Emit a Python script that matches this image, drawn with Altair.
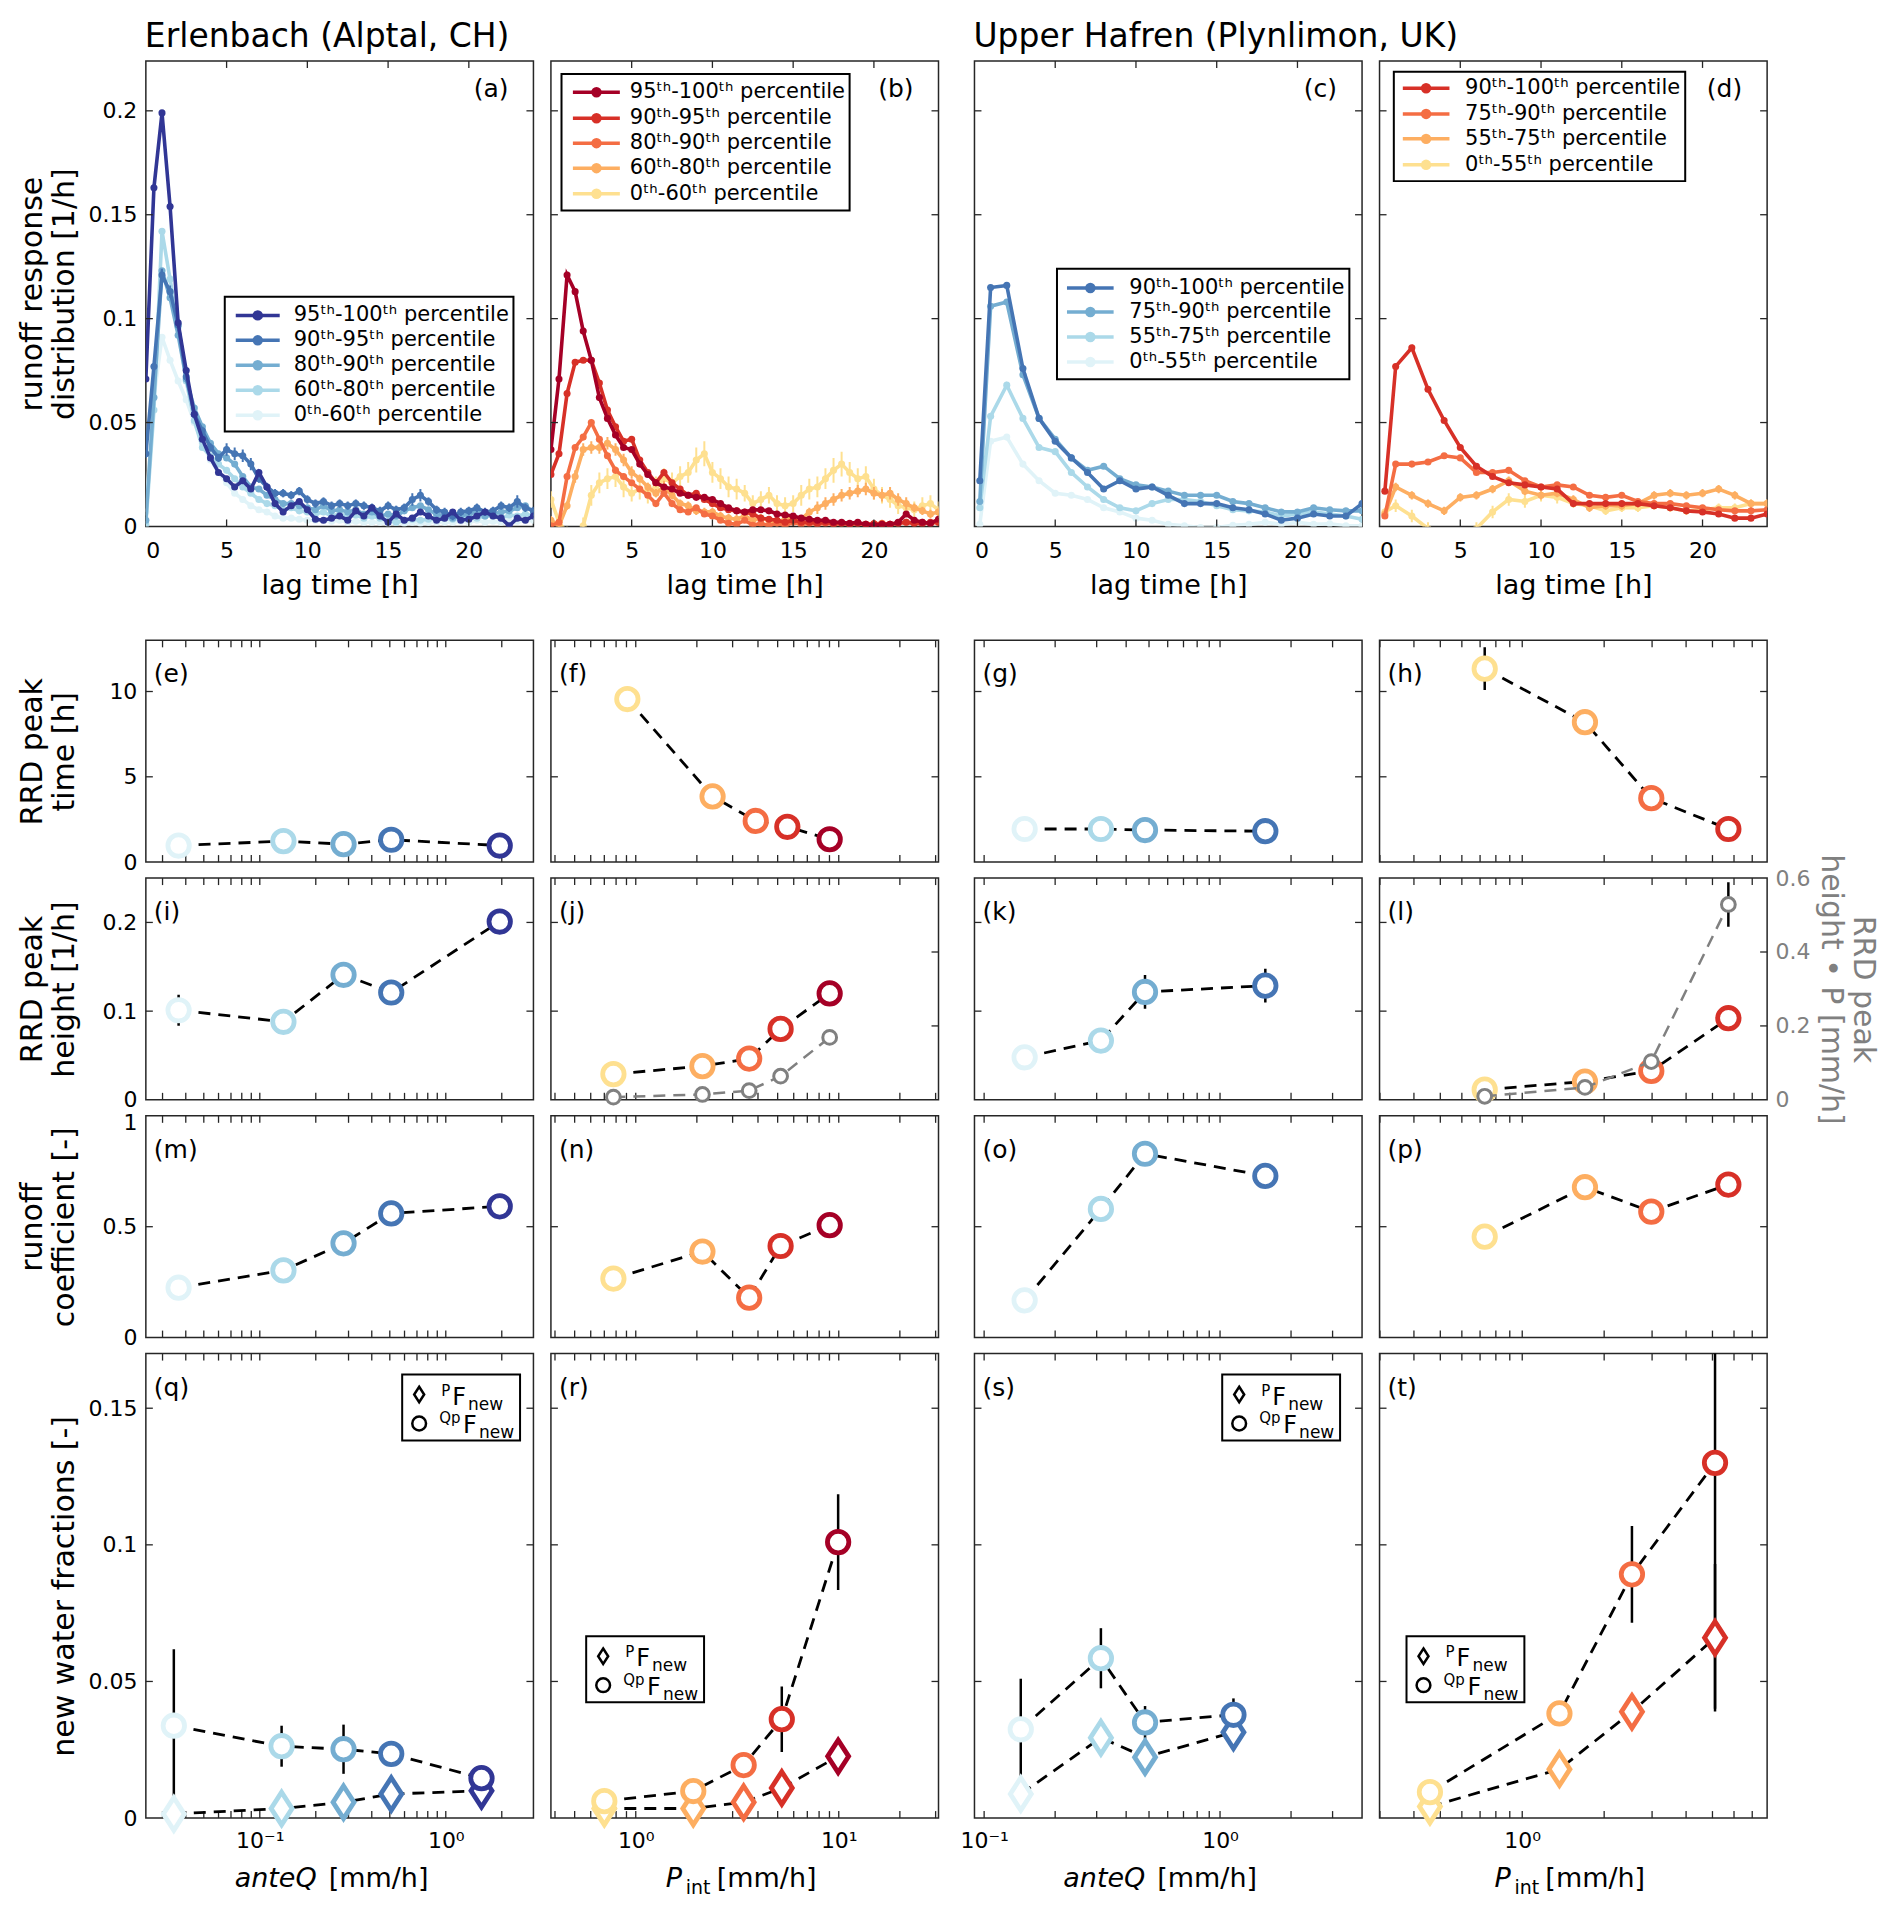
import altair as alt
import pandas as pd

FONT = "DejaVu Sans"
INK = "#000000"
FRAME = "#262626"
GRAY = "#808080"

W = 388
H_TOP = 466
H_MID = 222
H_BOT = 465

# ---------------- colours & labels ----------------
ER_BLUE = ["#313695", "#4575b4", "#74add1", "#abd9e9", "#e0f3f8"]
ER_RED = ["#a50026", "#d73027", "#f46d43", "#fdae61", "#fee090"]
UH_BLUE = ["#4575b4", "#74add1", "#abd9e9", "#e0f3f8"]
UH_RED = ["#d73027", "#f46d43", "#fdae61", "#fee090"]

ER_LABELS = ["95ᵗʰ-100ᵗʰ percentile", "90ᵗʰ-95ᵗʰ percentile", "80ᵗʰ-90ᵗʰ percentile",
             "60ᵗʰ-80ᵗʰ percentile", "0ᵗʰ-60ᵗʰ percentile"]
UH_LABELS = ["90ᵗʰ-100ᵗʰ percentile", "75ᵗʰ-90ᵗʰ percentile", "55ᵗʰ-75ᵗʰ percentile",
             "0ᵗʰ-55ᵗʰ percentile"]
STATIONS = ["Erlenbach (Alptal, CH)", "Upper Hafren (Plynlimon, UK)"]

# ---------------- runoff response distributions ----------------
ER_LAG = [0, 0.5, 1, 1.5, 2, 2.5, 3, 3.5, 4, 4.5, 5, 5.5, 6, 6.5, 7, 7.5, 8, 8.5, 9, 9.5,
          10, 10.5, 11, 11.5, 12, 12.5, 13, 13.5, 14, 14.5, 15, 15.5, 16, 16.5, 17, 17.5,
          18, 18.5, 19, 19.5, 20, 20.5, 21, 21.5, 22, 22.5, 23, 23.5, 24]

A_95 = [0.071, 0.163, 0.199, 0.154, 0.098, 0.075, 0.054, 0.042, 0.033, 0.026, 0.023, 0.019,
        0.022, 0.018, 0.026, 0.019, 0.011, 0.007, 0.010, 0.012, 0.008, 0.0035, 0.003, 0.004,
        0.005, 0.003, 0.0075, 0.005, 0.009, 0.005, 0.002, 0.006, 0.003, 0.004, 0.007, 0.005,
        0.003, 0.004, 0.007, 0.003, 0.0035, 0.005, 0.007, 0.005, 0.004, 0.0003, 0.004, 0.003, 0.005]
A_90 = [0.035, 0.077, 0.121, 0.113, 0.097, 0.072, 0.054, 0.046, 0.038, 0.033, 0.037, 0.035,
        0.034, 0.030, 0.023, 0.019, 0.016, 0.016, 0.015, 0.017, 0.013, 0.011, 0.012, 0.010,
        0.011, 0.010, 0.011, 0.010, 0.009, 0.0075, 0.010, 0.008, 0.009, 0.013, 0.015, 0.012,
        0.008, 0.007, 0.005, 0.007, 0.0075, 0.009, 0.007, 0.0075, 0.010, 0.009, 0.012, 0.009, 0.0075]
A_90_ERR = [0.002, 0.003, 0.003, 0.003, 0.003, 0.002, 0.002, 0.002, 0.002, 0.002, 0.003, 0.003,
            0.003, 0.003, 0.002, 0.002, 0.002, 0.002, 0.002, 0.002, 0.002, 0.002, 0.002, 0.002,
            0.002, 0.002, 0.002, 0.002, 0.002, 0.002, 0.002, 0.002, 0.002, 0.003, 0.003, 0.002,
            0.002, 0.002, 0.002, 0.002, 0.002, 0.002, 0.002, 0.002, 0.002, 0.002, 0.003, 0.002, 0.002]
A_80 = [0.003, 0.062, 0.123, 0.110, 0.092, 0.071, 0.057, 0.048, 0.040, 0.035, 0.033, 0.030,
        0.024, 0.019, 0.018, 0.015, 0.013, 0.011, 0.011, 0.010, 0.009, 0.008, 0.010, 0.0075,
        0.008, 0.007, 0.008, 0.006, 0.007, 0.005, 0.006, 0.005, 0.0075, 0.009, 0.010, 0.008,
        0.006, 0.005, 0.004, 0.005, 0.006, 0.007, 0.005, 0.006, 0.007, 0.0075, 0.009, 0.010, 0.007]
A_60 = [0.001, 0.056, 0.142, 0.119, 0.096, 0.070, 0.051, 0.038, 0.034, 0.030, 0.027, 0.023,
        0.019, 0.016, 0.013, 0.011, 0.010, 0.008, 0.009, 0.0075, 0.007, 0.006, 0.007, 0.005,
        0.006, 0.005, 0.0055, 0.004, 0.005, 0.004, 0.003, 0.002, 0.003, 0.0035, 0.003, 0.0035,
        0.004, 0.004, 0.0035, 0.004, 0.005, 0.004, 0.005, 0.005, 0.004, 0.0055, 0.005, 0.006, 0.005]
A_0 = [0.007, 0.062, 0.091, 0.080, 0.070, 0.061, 0.050, 0.040, 0.032, 0.026, 0.021, 0.016,
       0.013, 0.010, 0.008, 0.007, 0.005, 0.004, 0.004, 0.0035, 0.003, 0.003, 0.003, 0.0025,
       0.003, 0.002, 0.0025, 0.002, 0.002, 0.002, 0.0015, 0.002, 0.0015, 0.002, 0.0015, 0.002,
       0.002, 0.002, 0.002, 0.0025, 0.002, 0.003, 0.002, 0.0025, 0.002, 0.003, 0.0025, 0.003, 0.003]

B_95 = [0.037, 0.071, 0.121, 0.113, 0.094, 0.080, 0.062, 0.052, 0.044, 0.038, 0.037, 0.030,
        0.025, 0.021, 0.019, 0.018, 0.016, 0.015, 0.014, 0.014, 0.013, 0.011, 0.009, 0.0075,
        0.007, 0.008, 0.008, 0.0075, 0.006, 0.0055, 0.005, 0.004, 0.0035, 0.003, 0.003, 0.002,
        0.002, 0.0015, 0.002, 0.001, 0.0006, 0.001, 0.001, 0.002, 0.006, 0.003, 0.002, 0.0015, 0.0035]
B_90 = [0.025, 0.035, 0.064, 0.079, 0.080, 0.080, 0.069, 0.056, 0.048, 0.041, 0.042, 0.032,
        0.026, 0.021, 0.026, 0.021, 0.018, 0.015, 0.016, 0.013, 0.011, 0.009, 0.008, 0.0075,
        0.007, 0.006, 0.004, 0.0035, 0.003, 0.002, 0.003, 0.002, 0.002, 0.0015, 0.002, 0.0013,
        0.0015, 0.001, 0.0015, 0.001, 0.0013, 0.001, 0.001, 0.0015, 0.002, 0.0015, 0.0013, 0.002, 0.002]
B_80 = [0.0003, 0.002, 0.024, 0.038, 0.043, 0.050, 0.042, 0.034, 0.027, 0.024, 0.021, 0.018,
        0.015, 0.011, 0.016, 0.011, 0.008, 0.007, 0.009, 0.006, 0.005, 0.003, 0.0015, 0.001,
        0.003, 0.0006, 0.0015, 0.0003, 0.0015, 0.0003, 0.002, 0.001, 0.0015, 0.001, 0.0015, 0.001,
        0.0015, 0.001, 0.0015, 0.001, 0.0013, 0.0015, 0.001, 0.0015, 0.002, 0.0015, 0.002, 0.0015, 0.002]
B_60 = [0.003, 0.0003, 0.010, 0.024, 0.037, 0.038, 0.038, 0.040, 0.037, 0.032, 0.026, 0.023,
        0.019, 0.016, 0.019, 0.015, 0.011, 0.010, 0.0075, 0.007, 0.007, 0.005, 0.004, 0.0035,
        0.005, 0.003, 0.004, 0.003, 0.002, 0.0035, 0.004, 0.0035, 0.007, 0.009, 0.011, 0.013,
        0.015, 0.016, 0.017, 0.018, 0.016, 0.015, 0.016, 0.013, 0.011, 0.009, 0.0075, 0.006, 0.007]
B_60_ERR = [0.002, 0.002, 0.002, 0.003, 0.003, 0.003, 0.003, 0.003, 0.003, 0.003, 0.003, 0.002,
            0.002, 0.002, 0.003, 0.002, 0.002, 0.002, 0.002, 0.002, 0.002, 0.002, 0.002, 0.002,
            0.002, 0.002, 0.002, 0.002, 0.002, 0.002, 0.002, 0.002, 0.002, 0.003, 0.003, 0.003,
            0.003, 0.003, 0.003, 0.003, 0.003, 0.003, 0.003, 0.003, 0.003, 0.002, 0.002, 0.002, 0.002]
B_0 = [0.013, 0.002, -0.003, -0.004, 0.0003, 0.015, 0.021, 0.023, 0.024, 0.019, 0.016, 0.018,
       0.016, 0.019, 0.023, 0.021, 0.024, 0.026, 0.032, 0.035, 0.026, 0.023, 0.019, 0.018,
       0.016, 0.011, 0.013, 0.015, 0.011, 0.010, 0.011, 0.015, 0.018, 0.019, 0.023, 0.027,
       0.030, 0.026, 0.023, 0.024, 0.018, 0.015, 0.013, 0.010, 0.009, 0.008, 0.010, 0.011, 0.008]
B_0_ERR = [0.004, 0.003, 0.003, 0.003, 0.004, 0.005, 0.005, 0.005, 0.005, 0.005, 0.004, 0.005,
           0.005, 0.005, 0.005, 0.005, 0.005, 0.005, 0.006, 0.006, 0.005, 0.005, 0.005, 0.005,
           0.004, 0.004, 0.004, 0.004, 0.004, 0.004, 0.004, 0.005, 0.005, 0.005, 0.005, 0.006,
           0.006, 0.005, 0.005, 0.005, 0.005, 0.004, 0.004, 0.004, 0.004, 0.004, 0.004, 0.004, 0.004]

UH_LAG = [0.33, 1, 2, 3, 4, 5, 6, 7, 8, 9, 10, 11, 12, 13, 14, 15, 16, 17, 18, 19, 20, 21, 22, 23, 24]

C_90 = [0.022, 0.115, 0.116, 0.076, 0.052, 0.041, 0.033, 0.026, 0.018, 0.022, 0.018, 0.019, 0.015,
        0.011, 0.011, 0.011, 0.009, 0.008, 0.006, 0.003, 0.004, 0.006, 0.005, 0.005, 0.011]
C_75 = [0.012, 0.106, 0.108, 0.073, 0.052, 0.042, 0.033, 0.027, 0.029, 0.023, 0.020, 0.019, 0.017,
        0.015, 0.015, 0.015, 0.012, 0.011, 0.009, 0.007, 0.007, 0.009, 0.008, 0.0075, 0.0075]
C_55 = [0.009, 0.053, 0.068, 0.052, 0.038, 0.036, 0.026, 0.019, 0.013, 0.009, 0.0075, 0.011, 0.013,
        0.013, 0.012, 0.010, 0.008, 0.0075, 0.007, 0.005, 0.006, 0.007, 0.006, 0.005, 0.0035]
C_0 = [0.001, 0.041, 0.043, 0.030, 0.022, 0.016, 0.015, 0.013, 0.009, 0.007, 0.004, 0.003, 0.001,
       0.0003, -0.0005, -0.0005, 0.0006, 0.001, 0.002, 0.001, 0.002, 0.001, 0.0013, 0.0003, 0.0003]

D_90 = [0.017, 0.077, 0.086, 0.066, 0.051, 0.038, 0.029, 0.024, 0.021, 0.020, 0.019, 0.018, 0.011,
        0.011, 0.011, 0.011, 0.011, 0.010, 0.009, 0.0075, 0.007, 0.006, 0.004, 0.004, 0.006]
D_75 = [0.005, 0.030, 0.030, 0.031, 0.034, 0.033, 0.026, 0.026, 0.027, 0.022, 0.019, 0.020, 0.019,
        0.015, 0.014, 0.015, 0.012, 0.011, 0.011, 0.010, 0.009, 0.008, 0.0075, 0.0075, 0.008]
D_55 = [0.006, 0.019, 0.015, 0.011, 0.0075, 0.014, 0.015, 0.018, 0.022, 0.017, 0.015, 0.016, 0.013,
        0.009, 0.010, 0.010, 0.011, 0.015, 0.016, 0.015, 0.016, 0.018, 0.015, 0.011, 0.011]
D_55_ERR = [0.002, 0.002, 0.002, 0.002, 0.002, 0.002, 0.002, 0.002, 0.002, 0.002, 0.002, 0.002, 0.002,
            0.002, 0.002, 0.002, 0.002, 0.002, 0.002, 0.002, 0.002, 0.002, 0.002, 0.002, 0.002]
D_0 = [0.007, 0.010, 0.005, -0.001, -0.004, -0.004, -0.001, 0.007, 0.013, 0.012, 0.015, 0.014, 0.011,
       0.010, 0.0075, 0.009, 0.009, 0.010, 0.009, 0.0075, 0.008, 0.009, 0.009, 0.011, 0.011]
D_0_ERR = [0.002, 0.003, 0.003, 0.003, 0.003, 0.003, 0.003, 0.003, 0.003, 0.003, 0.003, 0.003, 0.002,
           0.002, 0.002, 0.002, 0.002, 0.002, 0.002, 0.002, 0.002, 0.002, 0.002, 0.002, 0.002]

# ---------------- summary metrics ----------------
ER_Q_X = [0.0366, 0.134, 0.282, 0.509, 1.95]
ER_Q_X_FNEW = [0.0345, 0.131, 0.282, 0.509, 1.556]
E_PEAKT = [0.97, 1.23, 1.05, 1.31, 0.97]
I_PEAKH = [0.101, 0.088, 0.141, 0.121, 0.201]
I_ERR = [0.0175, 0.005, 0.008, 0.006, 0.005]
M_RC = [0.225, 0.303, 0.425, 0.56, 0.592]
Q_QPF = [0.0338, 0.0263, 0.0252, 0.0235, 0.0146]
Q_QPF_ERR = [0.028, 0.0075, 0.009, 0.004, 0.003]
Q_PF = [0.0015, 0.0035, 0.0058, 0.0088, 0.010]
Q_PF_ERR = [0.001, 0.001, 0.001, 0.001, 0.001]

F_X = [0.909, 2.39, 3.90, 5.58, 9.02]
F_PEAKT = [9.56, 3.85, 2.41, 2.07, 1.34]
JN_X = [0.776, 2.13, 3.62, 5.17, 9.02]
J_PEAKH = [0.029, 0.038, 0.0465, 0.080, 0.120]
J_PEAKHP = [0.0073, 0.0145, 0.025, 0.064, 0.169]
N_RC = [0.266, 0.388, 0.18, 0.413, 0.507]
R_X = [0.700, 1.92, 3.40, 5.24, 9.93]
R_QPF = [0.0062, 0.0099, 0.0194, 0.0362, 0.101]
R_QPF_ERR = [0.001, 0.002, 0.003, 0.012, 0.0175]
R_PF = [0.0035, 0.0035, 0.0058, 0.011, 0.0226]
R_PF_ERR = [0.0005, 0.0005, 0.001, 0.002, 0.005]

UH_Q_X = [0.1485, 0.3126, 0.4808, 1.556]
UH_Q_X_FNEW = [0.143, 0.3126, 0.481, 1.14]
G_PEAKT = [1.94, 1.94, 1.88, 1.81]
K_PEAKH = [0.048, 0.0668, 0.1216, 0.1287]
K_ERR = [0.004, 0.006, 0.019, 0.019]
O_RC = [0.168, 0.58, 0.829, 0.729]
S_QPF = [0.0325, 0.0585, 0.035, 0.0378]
S_QPF_ERR = [0.0185, 0.011, 0.006, 0.006]
S_PF = [0.0088, 0.0294, 0.0223, 0.0314]
S_PF_ERR = [0.003, 0.004, 0.004, 0.003]

UH_P_X = [0.728, 1.70, 2.98, 5.72]
UH_P_X_FNEW = [0.458, 1.37, 2.53, 5.11]
H_PEAKT = [11.34, 8.2, 3.75, 1.94]
H_ERR = [1.25, 0.3, 0.2, 0.15]
L_PEAKH = [0.0115, 0.0206, 0.0326, 0.092]
L_PEAKHP = [0.0097, 0.0336, 0.1036, 0.5286]
L_PEAKHP_ERR = [0.002, 0.005, 0.01, 0.06]
P_RC = [0.455, 0.678, 0.568, 0.69]
T_QPF = [0.0095, 0.0383, 0.0892, 0.130]
T_QPF_ERR = [0.002, 0.004, 0.0177, 0.09]
T_PF = [0.0042, 0.0179, 0.0389, 0.066]
T_PF_ERR = [0.001, 0.003, 0.005, 0.027]

ER_Q_COL = ER_BLUE[::-1]
ER_P_COL = ER_RED[::-1]
UH_Q_COL = UH_BLUE[::-1]
UH_P_COL = UH_RED[::-1]

# ---------------- axes: domains and tick positions ----------------
XD_ERQ = [0.0244, 2.96]
XD_ERP = [0.382, 31.0]
XD_UHQ = [0.091, 4.0]
XD_UHP = [0.299, 7.94]
XT_ERQ = [0.03, 0.04, 0.05, 0.06, 0.07, 0.08, 0.09, 0.1, 0.2, 0.3, 0.4, 0.5, 0.6, 0.7, 0.8, 0.9, 1, 2]
XT_ERP = [0.4, 0.5, 0.6, 0.7, 0.8, 0.9, 1, 2, 3, 4, 5, 6, 7, 8, 9, 10, 20, 30]
XT_UHQ = [0.1, 0.2, 0.3, 0.4, 0.5, 0.6, 0.7, 0.8, 0.9, 1, 2, 3]
XT_UHP = [0.3, 0.4, 0.5, 0.6, 0.7, 0.8, 0.9, 1, 2, 3, 4, 5, 6, 7]
LAG_TICKS = [5, 10, 15, 20]
RRD_TICKS = [0.05, 0.1, 0.15, 0.2]
RRD_MAX = 0.224

DIAMOND = "M0,-1.55L1,0L0,1.55L-1,0Z"
YT_FONT = 30
YT_LH = 32
LEG_DY = 4
MK_SIZE = 460
MK_SW = 4.8


# ---------------- helpers ----------------
def one(v="x"):
    return alt.Chart(pd.DataFrame({"t": [v]}))


def text_at(s, x, y, size, align="left", baseline="alphabetic", color=INK, style="normal"):
    return one(s).mark_text(align=align, baseline=baseline, font=FONT, fontSize=size,
                            color=color, fontStyle=style).encode(
        x=alt.value(x), y=alt.value(y), text="t:N")


def box_at(x0, x1, y0, y1):
    return one().mark_rect(fill="white", stroke=INK, strokeWidth=2).encode(
        x=alt.value(x0), x2=alt.value(x1), y=alt.value(y0), y2=alt.value(y1))


def left_axis(title, values, top_shift=None):
    kw = {}
    if top_shift is not None:
        kw["labelOffset"] = {"condition": {"test": "datum.value == %s" % top_shift[0],
                                           "value": top_shift[1]}, "value": 0}
    return alt.Axis(title=title, values=values, format="~f", labelPadding=9,
                    minExtent=58, maxExtent=58, titlePadding=8, titleFontSize=YT_FONT,
                    titleLineHeight=YT_LH, **kw)


X_TOP_AXIS = alt.Axis(title="lag time [h]", values=[0, 5, 10, 15, 20],
                      labelPadding=14, titlePadding=11)


def x_ticks(vals, xsc, xax, height, tlen=7):
    df = pd.DataFrame({"v": vals})
    out = []
    for yy in (tlen / 2, height - tlen / 2):
        out.append(alt.Chart(df).mark_tick(color=FRAME, thickness=1.3, size=tlen, orient="vertical",
                                           opacity=1).encode(
            x=alt.X("v:Q", scale=xsc, axis=xax), y=alt.value(yy)))
    return out


def y_ticks(vals, ysc, yax, sides=("l", "r"), tlen=7):
    df = pd.DataFrame({"v": vals})
    out = []
    for s in sides:
        xx = tlen / 2 if s == "l" else W - tlen / 2
        out.append(alt.Chart(df).mark_tick(color=FRAME, thickness=1.3, size=tlen, orient="horizontal",
                                           opacity=1).encode(
            y=alt.Y("v:Q", scale=ysc, axis=yax), x=alt.value(xx)))
    return out


def rrd_panel(lags, series, colors, labels, errs, tag, leg, first_col, title):
    yax = left_axis(["runoff response", "distribution [1/h]"], [0, 0.05, 0.1, 0.15, 0.2]) if first_col else None
    xs = alt.Scale(domain=[0, 24], nice=False, zero=False)
    ys = alt.Scale(domain=[0, RRD_MAX], nice=False, zero=False)
    layers = []
    for vals, col, err in reversed(list(zip(series, colors, errs))):
        e = err if err is not None else [0] * len(vals)
        df = pd.DataFrame({"lag": lags, "rrd": vals,
                           "lo": [v - d for v, d in zip(vals, e)],
                           "hi": [v + d for v, d in zip(vals, e)]})
        X = alt.X("lag:Q", scale=xs, axis=X_TOP_AXIS)
        Y = alt.Y("rrd:Q", scale=ys, axis=yax)
        if err is not None:
            layers.append(alt.Chart(df).mark_rule(color=col, strokeWidth=2, clip=True).encode(
                x=X, y=alt.Y("lo:Q", scale=ys, axis=yax), y2="hi:Q"))
        layers.append(alt.Chart(df).mark_line(color=col, strokeWidth=3.6, clip=True).encode(x=X, y=Y))
        layers.append(alt.Chart(df).mark_point(color=col, filled=True, size=50, opacity=1,
                                               clip=True).encode(x=X, y=Y))
    layers += x_ticks(LAG_TICKS, xs, X_TOP_AXIS, H_TOP)
    layers += y_ticks(RRD_TICKS, ys, yax)
    bx0, bx1, by0, by1, rows_y, lx0, lx1, dotx, tx = leg
    layers.append(box_at(bx0, bx1, by0 + LEG_DY, by1 + LEG_DY))
    for lab, col, ry in zip(labels, colors, rows_y):
        yy = ry + LEG_DY
        layers.append(one(lab).mark_rule(color=col, strokeWidth=3.5).encode(
            x=alt.value(lx0), x2=alt.value(lx1), y=alt.value(yy)))
        layers.append(one(lab).mark_point(color=col, filled=True, size=110, opacity=1).encode(
            x=alt.value(dotx), y=alt.value(yy)))
        layers.append(text_at(lab, tx, yy, 21, baseline="middle"))
    layers.append(text_at(tag, W - 25, 28, 25, align="right", baseline="middle"))
    if title:
        layers.append(text_at(title, -1, -14, 33))
    return alt.layer(*layers).properties(width=W, height=H_TOP)


def dot_series(x, y, cols, err, xsc, ysc, xax, yax, shape="circle", size=MK_SIZE, sw=MK_SW,
               line_color=INK, line_w=2.8):
    e = err if err is not None else [0] * len(y)
    df = pd.DataFrame({"x": x, "y": y, "c": cols,
                       "lo": [v - d for v, d in zip(y, e)],
                       "hi": [v + d for v, d in zip(y, e)]})
    X = alt.X("x:Q", scale=xsc, axis=xax)
    Y = alt.Y("y:Q", scale=ysc, axis=yax)
    base = alt.Chart(df)
    line = base.mark_line(color=line_color, strokeWidth=line_w, strokeDash=[12, 8]).encode(x=X, y=Y)
    out_bars = []
    if err is not None:
        out_bars.append(base.mark_rule(color=INK, strokeWidth=2.5, clip=True).encode(
            x=X, y=alt.Y("lo:Q", scale=ysc, axis=yax), y2="hi:Q"))
    pts = base.mark_point(shape=shape, size=size, strokeWidth=sw, filled=False, fill="white",
                          fillOpacity=1, opacity=1).encode(
        x=X, y=Y, stroke=alt.Stroke("c:N", scale=None))
    return [line], out_bars, [pts]


def tag_left(tag):
    return text_at(tag, 8, 34, 25, baseline="middle")


def fnew_legend(bx, by):
    L = [box_at(bx, bx + 118, by, by + 66)]
    L.append(one().mark_point(shape=DIAMOND, size=100, strokeWidth=2.5, filled=False, color=INK,
                              opacity=1).encode(x=alt.value(bx + 17), y=alt.value(by + 20)))
    L.append(text_at("P", bx + 39, by + 21, 15))
    L.append(text_at("F", bx + 50, by + 30, 24))
    L.append(text_at("new", bx + 66, by + 35, 17))
    L.append(one().mark_point(shape="circle", size=190, strokeWidth=2.5, filled=False, color=INK,
                              opacity=1).encode(x=alt.value(bx + 17), y=alt.value(by + 49)))
    L.append(text_at("Qp", bx + 37, by + 49, 15))
    L.append(text_at("F", bx + 61, by + 59, 24))
    L.append(text_at("new", bx + 77, by + 64, 17))
    return L


def log_axis_bottom():
    return alt.Axis(values=[0.1, 1, 10], title=None, labelPadding=12,
                    labelExpr="datum.value < 0.5 ? '10⁻¹' : (datum.value < 5 ? '10⁰' : '10¹')")


def xtitle_anteq():
    return [text_at("anteQ", 171, H_BOT + 69, 27, align="right", style="italic"),
            text_at("[mm/h]", 183, H_BOT + 69, 27)]


def xtitle_pint():
    return [text_at("P", 115, H_BOT + 69, 27, style="italic"),
            text_at("int", 135, H_BOT + 76, 19),
            text_at("[mm/h]", 166, H_BOT + 69, 27)]


def simple_panel(x, y, cols, err, xdom, xt, ydom, yt, yax, tag, height):
    xsc = alt.Scale(type="log", domain=xdom, nice=False)
    ysc = alt.Scale(domain=ydom, nice=False, zero=False)
    ln, eb, pt = dot_series(x, y, cols, err, xsc, ysc, None, yax)
    ticks = x_ticks(xt, xsc, None, height) + y_ticks(yt, ysc, yax)
    return alt.layer(*ticks, *ln, *eb, *pt, tag_left(tag)).properties(width=W, height=height)


def gray_panel(x, y, cols, err, yg, yg_err, xdom, xt, yax_right, tag):
    xsc = alt.Scale(type="log", domain=xdom, nice=False)
    ysc = alt.Scale(domain=[0, 0.25], nice=False, zero=False)
    ysg = alt.Scale(domain=[0, 0.6], nice=False, zero=False)
    ln, eb, pt = dot_series(x, y, cols, err, xsc, ysc, None, None)
    gl, ge, gp = dot_series(x, yg, [GRAY] * len(x), yg_err, xsc, ysg, None, yax_right,
                            size=190, sw=3, line_color=GRAY, line_w=2.5)
    ticks = x_ticks(xt, xsc, None, H_MID) + y_ticks([0.1, 0.2], ysc, None, sides=("l",))
    gticks = y_ticks([0.2, 0.4], ysg, yax_right, sides=("r",))
    main = alt.layer(*ticks, *ln, *eb, *pt, tag_left(tag))
    gray = alt.layer(*gticks, *gl, *ge, *gp)
    return alt.layer(main, gray).resolve_scale(y="independent").properties(width=W, height=H_MID)


def fnew_panel(xq, qpf, qpf_err, pf, pf_err, cols, xdom, xt, yax, tag, legend_xy, kind):
    xsc = alt.Scale(type="log", domain=xdom, nice=False)
    ysc = alt.Scale(domain=[0, 0.17], nice=False, zero=False)
    xax = log_axis_bottom()
    l1, e1, p1 = dot_series(xq, qpf, cols, qpf_err, xsc, ysc, xax, yax)
    l2, e2, p2 = dot_series(xq, pf, cols, pf_err, xsc, ysc, xax, yax, shape=DIAMOND, size=440)
    ticks = x_ticks(xt, xsc, xax, H_BOT) + y_ticks([0.05, 0.1, 0.15], ysc, yax)
    xtl = xtitle_anteq() if kind == "q" else xtitle_pint()
    layers = [*ticks, *l2, *l1, *e2, *e1, *p2, *p1, *fnew_legend(*legend_xy), tag_left(tag), *xtl]
    return alt.layer(*layers).properties(width=W, height=H_BOT)


def spacer(h):
    return one().mark_point(opacity=0).properties(
        width=1, height=h, view=alt.ViewBackground(stroke="transparent"))


# ---------------- top row ----------------
pa = rrd_panel(ER_LAG, [A_95, A_90, A_80, A_60, A_0], ER_BLUE, ER_LABELS,
               [None, A_90_ERR, None, None, None], "(a)",
               (79, 368, 232, 367, [250.7, 275.7, 300.7, 325.7, 350.7], 90, 134, 112, 148),
               True, STATIONS[0])
pb = rrd_panel(ER_LAG, [B_95, B_90, B_80, B_60, B_0], ER_RED, ER_LABELS,
               [None, None, None, B_60_ERR, B_0_ERR], "(b)",
               (10.6, 299, 9, 145.7, [27.3, 53.3, 78.3, 103.3, 129], 22, 69, 45.6, 79),
               False, None)
pc = rrd_panel(UH_LAG, [C_90, C_75, C_55, C_0], UH_BLUE, UH_LABELS,
               [None, None, None, None], "(c)",
               (82.6, 375.3, 204, 314.7, [223.3, 247.3, 272.3, 297.3], 92.6, 139.3, 116, 155),
               False, STATIONS[1])
pd_ = rrd_panel(UH_LAG, [D_90, D_75, D_55, D_0], UH_RED, UH_LABELS,
                [None, None, D_55_ERR, D_0_ERR], "(d)",
                (14.3, 306, 6.7, 116.3, [23.3, 49, 74, 100], 23.3, 70, 46.6, 85.6),
                False, None)

# ---------------- rows 2-5 ----------------
pe = simple_panel(ER_Q_X, E_PEAKT, ER_Q_COL, [0.1] * 5, XD_ERQ, XT_ERQ, [0, 13], [5, 10],
                  left_axis(["RRD peak", "time [h]"], [0, 5, 10]), "(e)", H_MID)
pf = simple_panel(F_X, F_PEAKT, ER_P_COL, [0.3, 0.2, 0.15, 0.1, 0.1], XD_ERP, XT_ERP, [0, 13], [5, 10],
                  None, "(f)", H_MID)
pg = simple_panel(UH_Q_X, G_PEAKT, UH_Q_COL, [0.1] * 4, XD_UHQ, XT_UHQ, [0, 13], [5, 10],
                  None, "(g)", H_MID)
ph = simple_panel(UH_P_X, H_PEAKT, UH_P_COL, H_ERR, XD_UHP, XT_UHP, [0, 13], [5, 10],
                  None, "(h)", H_MID)

pi = simple_panel(ER_Q_X, I_PEAKH, ER_Q_COL, I_ERR, XD_ERQ, XT_ERQ, [0, 0.25], [0.1, 0.2],
                  left_axis(["RRD peak", "height [1/h]"], [0, 0.1, 0.2]), "(i)", H_MID)
pj = gray_panel(JN_X, J_PEAKH, ER_P_COL, None, J_PEAKHP, None, XD_ERP, XT_ERP, None, "(j)")
pk = simple_panel(UH_Q_X, K_PEAKH, UH_Q_COL, K_ERR, XD_UHQ, XT_UHQ, [0, 0.25], [0.1, 0.2],
                  None, "(k)", H_MID)
right_gray_axis = alt.Axis(orient="right", title=["RRD peak", "height • P [mm/h]"],
                           values=[0, 0.2, 0.4, 0.6], format="~f", labelColor=GRAY,
                           titleColor=GRAY, labelPadding=8, minExtent=40, maxExtent=40,
                           titlePadding=8, titleFontSize=YT_FONT, titleLineHeight=YT_LH)
pl = gray_panel(UH_P_X, L_PEAKH, UH_P_COL, None, L_PEAKHP, L_PEAKHP_ERR, XD_UHP, XT_UHP,
                right_gray_axis, "(l)")

pm = simple_panel(ER_Q_X, M_RC, ER_Q_COL, None, XD_ERQ, XT_ERQ, [0, 1], [0.5],
                  left_axis(["runoff", "coefficient [-]"], [0, 0.5, 1], top_shift=(1, 7)), "(m)", H_MID)
pn = simple_panel(JN_X, N_RC, ER_P_COL, None, XD_ERP, XT_ERP, [0, 1], [0.5], None, "(n)", H_MID)
po = simple_panel(UH_Q_X, O_RC, UH_Q_COL, None, XD_UHQ, XT_UHQ, [0, 1], [0.5], None, "(o)", H_MID)
pp = simple_panel(UH_P_X, P_RC, UH_P_COL, None, XD_UHP, XT_UHP, [0, 1], [0.5], None, "(p)", H_MID)

pq = fnew_panel(ER_Q_X_FNEW, Q_QPF, Q_QPF_ERR, Q_PF, Q_PF_ERR, ER_Q_COL, XD_ERQ, XT_ERQ,
                left_axis([" ", "new water fractions [-]"], [0, 0.05, 0.1, 0.15]), "(q)",
                (256.6, 21), "q")
pr = fnew_panel(R_X, R_QPF, R_QPF_ERR, R_PF, R_PF_ERR, ER_P_COL, XD_ERP, XT_ERP, None, "(r)",
                (35.3, 283), "p")
ps = fnew_panel(UH_Q_X_FNEW, S_QPF, S_QPF_ERR, S_PF, S_PF_ERR, UH_Q_COL, XD_UHQ, XT_UHQ, None, "(s)",
                (248, 21), "q")
pt = fnew_panel(UH_P_X_FNEW, T_QPF, T_QPF_ERR, T_PF, T_PF_ERR, UH_P_COL, XD_UHP, XT_UHP, None, "(t)",
                (27, 283), "p")

top = alt.concat(pa, pb, spacer(1), pc, pd_, columns=5, spacing=17.5, bounds="flush", align="each")
rest = alt.concat(pe, pf, spacer(1), pg, ph,
                  pi, pj, spacer(1), pk, pl,
                  pm, pn, spacer(1), po, pp,
                  pq, pr, spacer(1), ps, pt,
                  columns=5, spacing={"row": 16, "column": 17.5}, bounds="flush", align="each")

chart = alt.vconcat(top, rest, spacing=38).properties(
    padding={"left": 9, "top": 11, "right": 6, "bottom": 0}
).configure_view(
    stroke=FRAME, strokeWidth=1.5
).configure_axis(
    domain=False, ticks=False, grid=False, labelFont=FONT, labelFontSize=22, labelColor=INK,
    titleFont=FONT, titleFontSize=27, titleFontWeight="normal", titleColor=INK
)

chart.save("out.html", embed_options={"renderer": "svg", "actions": False})
